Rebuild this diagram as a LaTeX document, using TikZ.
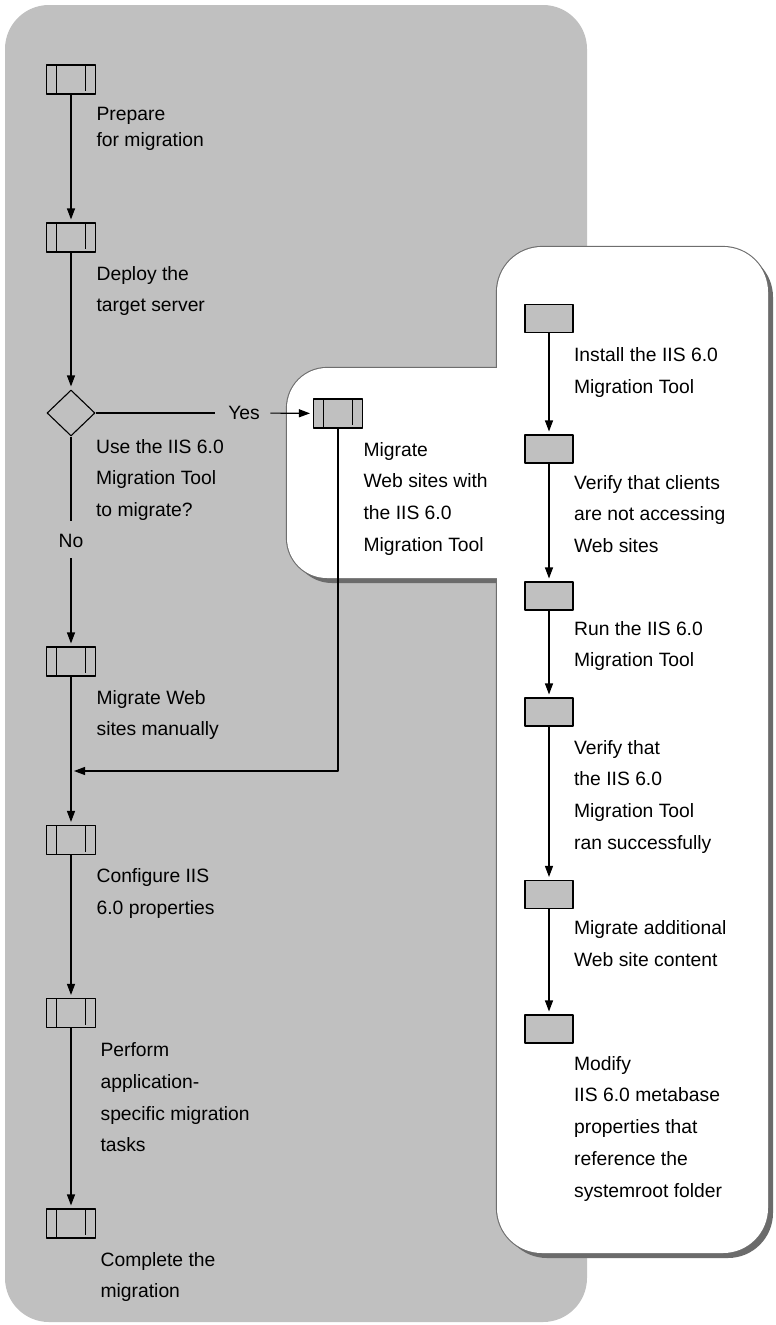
\documentclass[tikz,border=0pt]{standalone}
\usepackage{fontspec}
\setmainfont{Liberation Sans}
\usetikzlibrary{arrows.meta, shapes.geometric, positioning}
\definecolor{panelgray}{HTML}{C0C0C0}
\definecolor{shadowgray}{HTML}{6B6B6B}
\definecolor{edgegray}{HTML}{6E6E6E}
\tikzset{
  subproc/.style={draw, fill=panelgray, minimum width=49pt, minimum height=29pt, inner sep=0pt,
    path picture={\draw ([xshift=10pt]path picture bounding box.north west) -- ([xshift=10pt]path picture bounding box.south west)
      ([xshift=-10pt]path picture bounding box.north east) -- ([xshift=-10pt]path picture bounding box.south east);}},
  task/.style={draw, fill=panelgray, minimum width=48pt, minimum height=28pt, inner sep=0pt},
  decide/.style={draw, diamond, minimum width=48pt, minimum height=46pt, inner sep=0pt},
  txt/.style={anchor=north west, inner sep=0pt, align=left},
}
\begin{document}
\begin{tikzpicture}[x=1pt, y=-1pt, line width=1.1pt, >={Triangle[width=8pt,length=11pt]}, shorten >=3pt, line join=round, font=\fontsize{19.3}{31.8}\selectfont]
	\useasboundingbox (0,0) rectangle (776,1325);
	\fill[panelgray, rounded corners=44pt] (5,5) rectangle (587,1322);
	\fill[shadowgray, rounded corners=45pt] (502,252) rectangle (773,1258);
	\fill[shadowgray, rounded corners=40pt] (292,373) rectangle (560,583);
	\draw[edgegray, line width=2.2pt, rounded corners=45pt] (497,247) rectangle (768,1253);
	\draw[edgegray, line width=2.2pt, rounded corners=40pt] (287,368) rectangle (555,578);
	\fill[white, rounded corners=45pt] (497,247) rectangle (768,1253);
	\fill[white, rounded corners=40pt] (287,368) rectangle (555,578);
	\node[subproc] (prep) at (71,79.5) {};
	\node[subproc] (deploy) at (71,237.5) {};
	\node[decide] (usetool) at (71,413) {};
	\node[subproc] (manual) at (71,661.5) {};
	\node[subproc] (config) at (71,840) {};
	\node[subproc] (perform) at (71,1013) {};
	\node[subproc] (complete) at (71,1223.5) {};
	\node[subproc] (withtool) at (338,413.5) {};
	\node[task] (install) at (549,318.5) {};
	\node[task] (clients) at (549,449) {};
	\node[task] (run) at (549,596) {};
	\node[task] (verifyrun) at (549,712) {};
	\node[task] (content) at (549,894.5) {};
	\node[task] (metabase) at (549,1029) {};
	\node[inner xsep=10pt, inner ysep=2pt] (yes) at (244,413) {Yes};
	\node[inner xsep=0pt, inner ysep=10pt] (no) at (71,541) {No};
	\coordinate (merge) at (71,771);
	\draw[->] (prep) -- (deploy);
	\draw[->] (deploy) -- (usetool);
	\draw (usetool) -- (yes);
	\draw[->] (yes) -- (withtool);
	\draw (usetool) -- (no);
	\draw[->] (no) -- (manual);
	\draw[->] (manual) -- (config);
	\draw[->] (withtool) |- (merge);
	\draw[->] (config) -- (perform);
	\draw[->] (perform) -- (complete);
	\foreach \a/\b in {install/clients, clients/run, run/verifyrun, verifyrun/content, content/metabase} {
		\draw[->] (\a) -- (\b);
	}
	\node[txt, yshift=-12pt, font=\fontsize{19.3}{26}\selectfont] at (prep.south east) {Prepare\\for migration};
	\node[txt, yshift=-13pt] at (deploy.south east) {Deploy the\\target server};
	\node[txt, yshift=-2pt] at (usetool.east |- usetool.south) {Use the IIS 6.0\\Migration Tool\\to migrate?};
	\node[txt, yshift=-13pt] at (manual.south east) {Migrate Web\\sites manually};
	\node[txt, yshift=-13pt] at (config.south east) {Configure IIS\\6.0 properties};
	\node[txt, xshift=4pt, yshift=-14pt] at (perform.south east) {Perform\\application-\\specific migration\\tasks};
	\node[txt, xshift=4pt, yshift=-13pt] at (complete.south east) {Complete the\\migration};
	\node[txt, yshift=-13pt] at (withtool.south east) {Migrate\\Web sites with\\the IIS 6.0\\Migration Tool};
	\node[txt, yshift=-14pt] at (install.south east) {Install the IIS 6.0\\Migration Tool};
	\node[txt, yshift=-11pt] at (clients.south east) {Verify that clients\\are not accessing\\Web sites};
	\node[txt, yshift=-10pt] at (run.south east) {Run the IIS 6.0\\Migration Tool};
	\node[txt, yshift=-13pt] at (verifyrun.south east) {Verify that\\the IIS 6.0\\Migration Tool\\ran successfully};
	\node[txt, yshift=-11pt] at (content.south east) {Migrate additional\\Web site content};
	\node[txt, yshift=-12pt] at (metabase.south east) {Modify\\IIS 6.0 metabase\\properties that\\reference the\\systemroot folder};
\end{tikzpicture}
\end{document}
